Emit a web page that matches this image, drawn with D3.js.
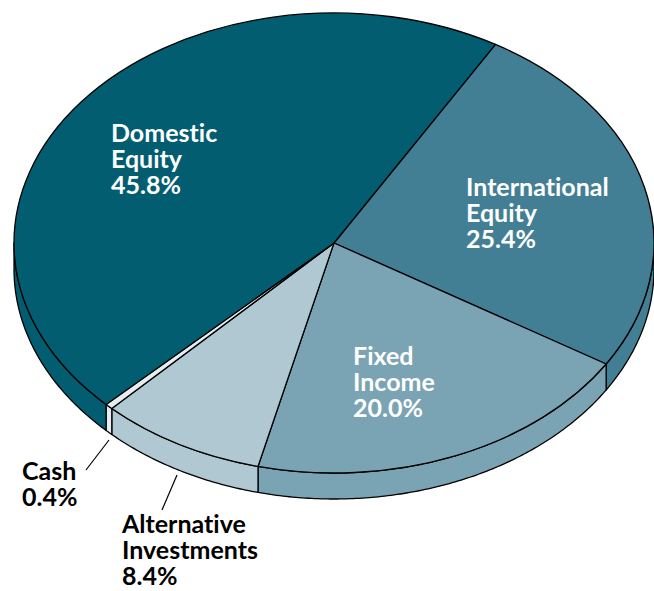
<!DOCTYPE html>
<html>
<head>
<meta charset="utf-8">
<script src="https://cdn.jsdelivr.net/npm/d3@7"></script>
<style>
  html, body { margin: 0; padding: 0; background: #fff; }
  svg { display: block; }
  text { font-family: Lato, "Open Sans", sans-serif; font-weight: bold; font-variant-ligatures: none; }
</style>
</head>
<body>
<svg id="chart" width="654" height="591"></svg>
<script>
// Asset allocation, in percent, clockwise from International Equity
const categories = ["International Equity", "Fixed Income", "Alternative Investments", "Cash", "Domestic Equity"];
const values = [25.4, 20.0, 8.4, 0.4, 45.8];
const nameLines = [["International", "Equity"], ["Fixed", "Income"], ["Alternative", "Investments"], ["Cash"], ["Domestic", "Equity"]];
const colors = ["#437f94", "#7aa3b4", "#b0c8d2", "#e4edf0", "#035d71"];

const svg = d3.select("#chart");
const cx = 334, cy = 243, rx = 320, ry = 230, depth = 26;
const start = 30.3 * Math.PI / 180;

const pie = d3.pie().sort(null).value(d => d.value)
  .startAngle(start).endAngle(start + 2 * Math.PI);
const data = categories.map((c, i) => ({ name: c, value: values[i], color: colors[i], lines: nameLines[i] }));
const arcs = pie(data);

// point on the rim of the tilted disc, angle clockwise from 12 o'clock
const rim = (a, dy = 0) => [cx + rx * Math.sin(a), cy - ry * Math.cos(a) + dy];
const sample = (a0, a1) => {
  const n = Math.max(2, Math.ceil(Math.abs(a1 - a0) / 0.01));
  return d3.range(n + 1).map(k => a0 + (a1 - a0) * k / n);
};
const line = d3.line();

// visible side wall: front half of the rim (90°..270°)
const sides = svg.append("g");
arcs.forEach(d => {
  // test both this turn and the neighbouring ones, since slices may wrap past 360°
  [0, 2 * Math.PI, -2 * Math.PI].forEach(off => {
    const a0 = Math.max(d.startAngle + off, Math.PI / 2);
    const a1 = Math.min(d.endAngle + off, 3 * Math.PI / 2);
    if (a1 <= a0) return;
    const top = sample(a0, a1).map(a => rim(a));
    const bottom = sample(a1, a0).map(a => rim(a, depth));
    sides.append("path")
      .attr("d", line(top.concat(bottom)) + "Z")
      .attr("fill", d.data.color)
      .attr("stroke", "#000")
      .attr("stroke-width", 1.3)
      .attr("stroke-linejoin", "round");
  });
});

// top surface: d3.arc on a circle, squashed vertically into the ellipse
const arc = d3.arc().innerRadius(0).outerRadius(rx);
svg.append("g")
  .attr("transform", `translate(${cx},${cy}) scale(1,${ry / rx})`)
  .selectAll("path")
  .data(arcs)
  .join("path")
  .attr("d", arc)
  .attr("fill", d => d.data.color)
  .attr("stroke", "#000")
  .attr("stroke-width", 1.3)
  .attr("stroke-linejoin", "round")
  .attr("vector-effect", "non-scaling-stroke");

// labels
const labelPos = [
  { x: 466, y: 196, fill: "#fff" },
  { x: 353, y: 365, fill: "#fff" },
  { x: 122, y: 533, fill: "#000" },
  { x: 22, y: 480, fill: "#000" },
  { x: 111, y: 142, fill: "#fff" }
];
const lh = 26;
arcs.forEach((d, i) => {
  const p = labelPos[i];
  const t = svg.append("text")
    .attr("x", p.x).attr("y", p.y)
    .attr("fill", p.fill)
    .attr("font-size", 25);
  const lines = d.data.lines.concat([d3.format(".1f")(d.data.value) + "%"]);
  lines.forEach((s, k) => {
    t.append("tspan").attr("x", p.x).attr("y", p.y + k * lh).text(s);
  });
});

// leader lines for the two small outside labels
const leaders = [
  [[109, 440], [86, 470]],
  [[177, 475], [162, 510]]
];
svg.append("g").selectAll("path")
  .data(leaders)
  .join("path")
  .attr("d", d => line(d))
  .attr("stroke", "#000")
  .attr("stroke-width", 1.2)
  .attr("fill", "none");
</script>
</body>
</html>
